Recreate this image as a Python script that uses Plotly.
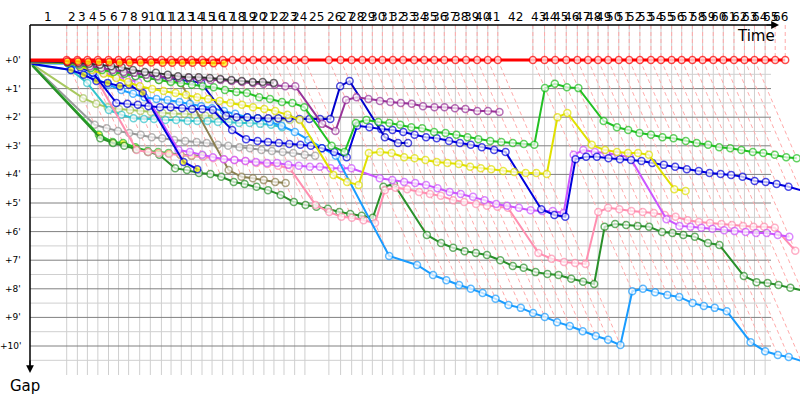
import plotly.graph_objects as go

# ---------------- data ----------------
# leader lap durations (seconds), laps 1..66
lap_times_s = [179, 52, 49, 51, 52, 49, 49, 54, 52, 54, 47, 50, 49, 52, 49, 52, 49, 51, 49, 52,
               49, 49, 52, 50, 117, 57, 54, 52, 49, 49, 51, 50, 54, 49, 49, 49, 54, 52, 54, 52,
               49, 171, 57, 52, 54, 54, 52, 49, 49, 52, 51, 52, 54, 49, 52, 49, 52, 50, 52, 49,
               52, 51, 49, 52, 49, 49]
lap_labels = [str(i) for i in range(1, 67)]
gap_tick_values = [0, 60, 120, 180, 240, 300, 360, 420, 480, 540, 600]
gap_tick_labels = ["+0'", "+1'", "+2'", "+3'", "+4'", "+5'", "+6'", "+7'", "+8'", "+9'", "+10'"]

# gaps to leader in seconds, from lap 0 (start) onwards
gaps_leader = [0, 0, 0, 0, 0, 0, 0, 0, 0, 0, 0, 0, 0, 0, 0, 0, 0, 0, 0, 0, 0, 0, 0, 0, 0, 0, 0, 0, 0, 0,
               0, 0, 0, 0, 0, 0, 0, 0, 0, 0, 0, 0, 0, 0, 0, 0, 0, 0, 0, 0, 0, 0, 0, 0, 0, 0, 0, 0, 0, 0,
               0, 0, 0, 0, 0, 0, 0]
gaps_red2 = [1, 3, 3, 4, 4, 4, 5, 5, 5, 5, 6, 6, 6, 6, 6, 7, 7]
gaps_black = [2, 4, 6, 8, 10, 13, 15, 21, 25, 27, 31, 34, 36, 36, 38, 40, 42, 44, 46, 46, 48]
gaps_purple = [3, 4, 8, 13, 17, 21, 25, 27, 31, 34, 36, 38, 38, 40, 42, 42, 44, 46, 48, 50, 52, 55, 55,
               134, 149, 84, 78, 82, 86, 88, 90, 92, 97, 99, 99, 101, 103, 107, 107, 109]
gaps_green = [4, 6, 10, 17, 21, 25, 29, 34, 38, 42, 46, 48, 52, 55, 57, 63, 67, 69, 78, 82, 88, 90, 99,
              180, 193, 132, 126, 130, 132, 136, 141, 143, 151, 153, 157, 162, 166, 170, 172, 174, 176, 178,
              59, 50, 57, 59, 128, 141, 147, 153, 157, 162, 164, 170, 174, 178, 183, 185, 189, 193, 195,
              199, 204, 206]
gaps_yellow = [5, 6, 13, 21, 29, 38, 46, 55, 61, 65, 69, 73, 78, 82, 86, 90, 94, 99, 103, 107, 115, 126,
               241, 256, 262, 195, 193, 195, 204, 206, 210, 214, 216, 218, 224, 227, 229, 233, 235, 237,
               237, 239, 120, 111, 178, 189, 193, 195, 195, 199, 271, 275]
gaps_blue1 = [3, 4, 8, 13, 17, 21, 25, 27, 31, 36, 38, 42, 44, 48, 117, 120, 120, 122, 122, 122, 122,
              124, 124, 124, 124, 55, 44, 162, 174, 174]
gaps_blue2 = [6, 6, 15, 27, 90, 92, 94, 97, 99, 99, 101, 103, 103, 105, 147, 166, 170, 172, 174, 176,
              178, 180, 185, 193, 204, 138, 141, 145, 147, 151, 157, 162, 164, 170, 174, 178, 183, 189,
              193, 313, 325, 329, 208, 203, 203, 206, 208, 210, 212, 216, 220, 224, 229, 233, 237, 239,
              241, 245, 254, 256, 260, 266, 273]
gaps_blue3 = [8, 21, 31, 44, 48, 55, 52, 69, 214, 229]
gaps_violet = [5, 6, 13, 21, 27, 34, 40, 46, 189, 193, 199, 204, 208, 210, 212, 214, 216, 216, 220, 222,
               224, 224, 227, 227, 227, 248, 252, 256, 258, 262, 269, 277, 281, 287, 294, 302, 306, 310,
               315, 317, 317, 321, 199, 189, 193, 195, 199, 204, 334, 348, 350, 352, 354, 357, 359, 361,
               363, 363, 367, 371]
gaps_pink = [7, 6, 15, 25, 189, 193, 195, 197, 199, 201, 203, 206, 208, 210, 212, 216, 218, 222, 227,
             304, 319, 329, 331, 336, 342, 273, 268, 271, 277, 281, 285, 294, 298, 302, 306, 308, 310,
             405, 417, 424, 426, 428, 319, 310, 313, 317, 319, 321, 325, 329, 336, 340, 342, 344, 346,
             348, 350, 350, 352, 400]
gaps_gray = [10, 136, 143, 149, 153, 157, 162, 164, 168, 170, 172, 174, 178, 180, 183, 185, 189, 191,
             193, 195, 199, 201]
gaps_darkgreen = [12, 164, 174, 180, 187, 193, 199, 227, 231, 237, 239, 245, 256, 260, 266, 273, 283,
                  298, 304, 308, 312, 319, 323, 327, 331, 266, 260, 367, 384, 394, 401, 405, 409, 420,
                  432, 436, 445, 449, 451, 459, 465, 470, 350, 344, 346, 348, 350, 361, 363, 367, 371,
                  384, 388, 453, 466, 468, 472, 478, 483]
gaps_green2 = [11, 157, 172, 174, 183, 191, 193, 195, 199, 201, 201]
gaps_olive = [4, 6, 13, 17, 21, 25, 29, 34, 38, 42, 44, 48, 231, 245, 248, 252, 256, 258]
gaps_cyan = [9, 21, 48, 105, 115, 122, 124, 124, 126, 126, 128, 128, 128, 130, 130, 132, 132, 134, 136, 141]
gaps_lime = [8, 80, 92, 99, 103, 105, 107, 109, 111, 113, 113, 115, 117, 117, 120, 120, 122, 122, 124,
             124, 126]
gaps_lightblue = [7, 8, 21, 38, 52, 63, 71, 78, 82, 84, 88, 92, 97, 101, 107, 113, 120, 122, 130, 138,
                  151, 168, 185, 201, 411, 430, 451, 462, 472, 480, 489, 501, 514, 520, 531, 539, 550,
                  558, 569, 579, 587, 598, 485, 480, 487, 493, 497, 510, 516, 520, 527, 592, 611, 619,
                  623, 631]

# (gaps, colour, yellow marker fill, line width)
series = [
    (gaps_lime, "#a8c860", False, 2),
    (gaps_gray, "#9a9a9a", False, 2),
    (gaps_cyan, "#33c4cc", False, 2),
    (gaps_olive, "#8c8050", False, 2),
    (gaps_green2, "#22bb22", True, 2),
    (gaps_darkgreen, "#2a902a", False, 2),
    (gaps_pink, "#ff8fb0", False, 2),
    (gaps_violet, "#cc55ff", False, 2),
    (gaps_lightblue, "#1a9cff", False, 2),
    (gaps_blue3, "#0000dd", True, 2),
    (gaps_blue2, "#0000dd", False, 2),
    (gaps_blue1, "#0000cc", False, 2),
    (gaps_yellow, "#e0e000", False, 2),
    (gaps_green, "#22c022", False, 2),
    (gaps_purple, "#993399", False, 2),
    (gaps_black, "#333333", False, 2),
    (gaps_leader, "#ff0000", False, 3),
    (gaps_red2, "#ff0000", True, 2),
]

# ---------------- geometry ----------------
W, H = 800, 400
ML, MR, MT, MB = 30, 0, 25, 20
PX_X = 12.3 / 60.0          # pixels per second on the time axis
PX_Y = 28.6 / 60.0          # pixels per second on the gap axis
plot_w = W - ML - MR
plot_h = H - MT - MB
x_max = plot_w / PX_X
y_top = -(60 - MT) / PX_Y
y_bot = y_top + plot_h / PX_Y
grid_x_end = (771 - ML) / PX_X

T = [0]
for lt in lap_times_s:
    T.append(T[-1] + lt)

fig = go.Figure()

# grid: light vertical per lap, half-minute light lines, full-minute dark lines
vx, vy = [], []
for n in range(1, len(T)):
    if T[n] <= grid_x_end + 1:
        vx += [T[n], T[n], None]
        vy += [y_top, y_bot - 5 / PX_Y, None]
hx, hy = [], []
for k in range(11):
    g = k * 60 + 30
    hx += [0, grid_x_end, None]
    hy += [g, g, None]
fig.add_trace(go.Scatter(x=vx + hx, y=vy + hy, mode="lines",
                         line=dict(color="#cfcfcf", width=1), hoverinfo="skip", showlegend=False))
dx, dy = [], []
for g in gap_tick_values:
    dx += [0, grid_x_end, None]
    dy += [g, g, None]
fig.add_trace(go.Scatter(x=dx, y=dy, mode="lines",
                         line=dict(color="#808080", width=1), hoverinfo="skip", showlegend=False))

# iso-lap dashed lines
ix, iy = [], []
for n in range(1, len(T)):
    gmax = max([s[0][n] for s in series if len(s[0]) > n])
    ix += [T[n], T[n], T[n] + gmax, None]
    iy += [y_top, 0, gmax, None]
fig.add_trace(go.Scatter(x=ix, y=iy, mode="lines",
                         line=dict(color="#ffaaaa", width=1, dash="4px,3px"),
                         hoverinfo="skip", showlegend=False, cliponaxis=False))

# driver traces
for gaps, col, yel, lw in series:
    xs = [T[i] + g for i, g in enumerate(gaps)]
    sizes = [0] + [7] * (len(gaps) - 1)
    fig.add_trace(go.Scatter(
        x=xs, y=gaps, mode="lines+markers",
        line=dict(color=col, width=lw),
        marker=dict(size=sizes, color="#ffff00" if yel else "#ffffff",
                    line=dict(color=col, width=1.5)),
        hoverinfo="skip", showlegend=False, cliponaxis=False))

# ---------------- annotations ----------------
ann = []
for n in range(1, len(T)):
    ann.append(dict(x=(T[n - 1] + T[n]) / 2, y=1 + 8 / plot_h, xref="x", yref="paper",
                    text=lap_labels[n - 1], showarrow=False, xanchor="center", yanchor="middle",
                    font=dict(family="DejaVu Sans", size=12, color="#000")))
for v, t in zip(gap_tick_values, gap_tick_labels):
    ann.append(dict(x=-7 / plot_w, y=v, xref="paper", yref="y", text=t, showarrow=False,
                    xanchor="right", yanchor="middle",
                    font=dict(family="DejaVu Sans", size=9, color="#000")))
ann.append(dict(x=(777 - ML) / plot_w, y=1 - (36 - MT) / plot_h, xref="paper", yref="paper",
                text="Time", showarrow=False, xanchor="right", yanchor="middle",
                font=dict(family="DejaVu Sans", size=15, color="#000")))
ann.append(dict(x=(25 - ML) / plot_w, y=-(386 - MT - plot_h) / plot_h, xref="paper", yref="paper",
                text="Gap", showarrow=False, xanchor="center", yanchor="middle",
                font=dict(family="DejaVu Sans", size=15, color="#000")))
# axis arrows
ann.append(dict(x=(779 - ML) / plot_w, y=1, xref="paper", yref="paper", ax=-14, ay=0,
                showarrow=True, arrowhead=2, arrowsize=1.3, arrowwidth=1.2, arrowcolor="#000", text=""))
ann.append(dict(x=0, y=-(373 - MT - plot_h) / plot_h, xref="paper", yref="paper", ax=0, ay=-14,
                showarrow=True, arrowhead=2, arrowsize=1.3, arrowwidth=1.2, arrowcolor="#000", text=""))

shapes = [
    dict(type="line", xref="paper", yref="paper", x0=0, x1=(776 - ML) / plot_w, y0=1, y1=1,
         line=dict(color="#000", width=1.5)),
    dict(type="line", xref="paper", yref="paper", x0=0, x1=0, y0=1,
         y1=-(368 - MT - plot_h) / plot_h, line=dict(color="#000", width=1.5)),
]

fig.update_layout(
    width=W, height=H, margin=dict(l=ML, r=MR, t=MT, b=MB, autoexpand=False),
    paper_bgcolor="white", plot_bgcolor="white",
    xaxis=dict(range=[0, x_max], visible=False, fixedrange=True),
    yaxis=dict(range=[y_bot, y_top], visible=False, fixedrange=True),
    annotations=ann, shapes=shapes, showlegend=False,
)

fig.write_html("out.html", config={"displayModeBar": False},
               post_script="document.body.style.margin='0px';document.body.style.overflow='hidden';")
